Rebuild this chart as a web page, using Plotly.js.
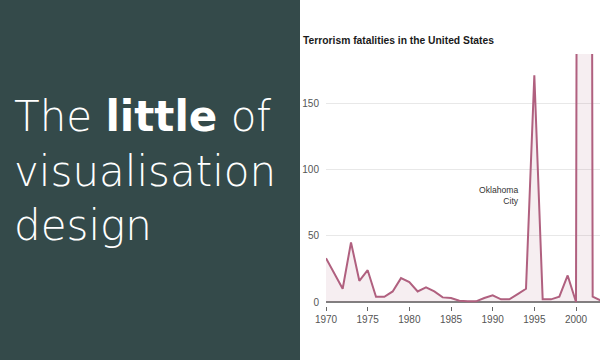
<!DOCTYPE html>
<html>
<head>
<meta charset="utf-8">
<script src="https://cdn.plot.ly/plotly-3.0.1.min.js"></script>
<style>
html,body{margin:0;padding:0;background:#fff;}
#chart{width:600px;height:360px;}
</style>
</head>
<body>
<div id="chart"></div>
<script>
// Data
const years = [1970,1971,1972,1973,1974,1975,1976,1977,1978,1979,1980,1981,1982,1983,1984,1985,1986,1987,1988,1989,1990,1991,1992,1993,1994,1995,1996,1997,1998,1999,2000,2001,2002,2003];
const fatalities = [33,21,10,45,16,24,4,4,8,18,15,8,11,8,3.5,3,1,0.5,0.5,3,5,2,2,6,10,171,2,2,4,20,0,3000,4,1];
const xTickVals = [1970,1975,1980,1985,1990,1995,2000];
const yTickVals = [0,50,100,150];
const chartTitle = "Terrorism fatalities in the United States";
const noteText = "Oklahoma<br>City";
const noteX = 1993.4, noteY = 80;
const headline = "The <b>little</b> of<br>visualisation<br>design";

const lineColor = "#b0607f";
const fillColor = "rgba(176,96,127,0.11)";

const trace = {
  x: years,
  y: fatalities,
  type: "scatter",
  mode: "lines",
  line: {color: lineColor, width: 2},
  fill: "tozeroy",
  fillcolor: fillColor,
  hoverinfo: "skip"
};

const layout = {
  width: 600,
  height: 360,
  margin: {l: 326, r: 0, t: 54, b: 54},
  paper_bgcolor: "#ffffff",
  plot_bgcolor: "rgba(0,0,0,0)",
  showlegend: false,
  font: {family: "Liberation Sans, Arial, sans-serif", size: 10, color: "#555"},
  title: {
    text: chartTitle,
    xref: "container", yref: "container",
    x: 303/600, xanchor: "left",
    y: 1 - 40/360, yanchor: "middle",
    font: {family: "Liberation Sans, Arial, sans-serif", size: 10.3, color: "#1a1a1a", weight: "bold"}
  },
  xaxis: {
    range: [1970, 2002.88],
    tickvals: xTickVals,
    ticktext: xTickVals.map(String),
    ticks: "outside",
    ticklen: 4,
    tickwidth: 1,
    tickcolor: "#666",
    showgrid: false,
    zeroline: false,
    showline: false,
    tickfont: {size: 10, color: "#555"},
    fixedrange: true
  },
  yaxis: {
    range: [-3, 187],
    tickvals: yTickVals,
    ticktext: yTickVals.map(String),
    showgrid: true,
    gridcolor: "#e8e8e8",
    gridwidth: 1,
    zeroline: true,
    zerolinecolor: "#808080",
    zerolinewidth: 1.5,
    showline: false,
    ticks: "",
    ticklabelstandoff: 6,
    tickfont: {size: 10, color: "#555"},
    fixedrange: true
  },
  shapes: [{
    type: "rect",
    xref: "paper", yref: "paper",
    x0: -326/274, x1: (300-326)/274,
    y0: -0.3, y1: 1.3,
    fillcolor: "#344a4a",
    line: {width: 0},
    layer: "above"
  }],
  annotations: [
    {
      text: noteText,
      xref: "x", yref: "y",
      x: noteX, y: noteY,
      xanchor: "right", yanchor: "middle",
      align: "right",
      showarrow: false,
      font: {family: "Liberation Sans, Arial, sans-serif", size: 8.6, color: "#333"}
    },
    {
      text: headline,
      xref: "paper", yref: "paper",
      x: (12-326)/274, xanchor: "left",
      y: (306-171)/252, yanchor: "middle",
      align: "left",
      showarrow: false,
      font: {family: "DejaVu Sans, sans-serif", size: 42, color: "#ffffff", weight: 200}
    }
  ]
};

Plotly.newPlot("chart", [trace], layout, {displayModeBar: false, staticPlot: true});
</script>
</body>
</html>
